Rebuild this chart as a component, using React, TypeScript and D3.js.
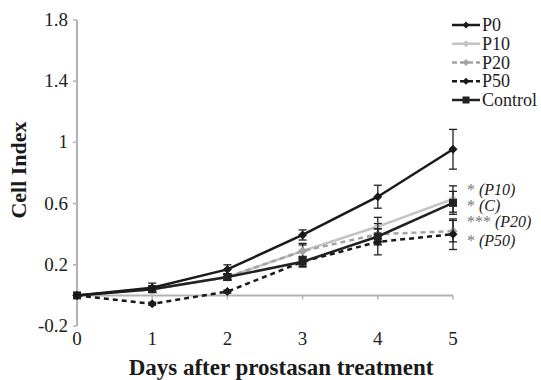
import React, { useRef, useEffect } from "react";
import * as d3 from "d3";

const days = [0, 1, 2, 3, 4, 5];
const yTicks = [-0.2, 0.2, 0.6, 1, 1.4, 1.8];

const p0 = [0, 0.05, 0.17, 0.395, 0.645, 0.955];
const p0Err = [0, 0.03, 0.03, 0.033, 0.075, 0.13];
const p10 = [0, 0.04, 0.12, 0.29, 0.45, 0.63];
const p10Err = [0, 0.02, 0.02, 0.05, 0.06, 0.086];
const p20 = [0, 0.04, 0.12, 0.29, 0.4, 0.42];
const p20Err = [0, 0.02, 0.02, 0.04, 0.07, 0.07];
const p50 = [0, -0.055, 0.025, 0.22, 0.35, 0.4];
const p50Err = [0, 0.01, 0.01, 0.035, 0.085, 0.1];
const control = [0, 0.04, 0.12, 0.22, 0.385, 0.605];
const controlErr = [0, 0.02, 0.02, 0.03, 0.05, 0.075];

const seriesNames = ["P0", "P10", "P20", "P50", "Control"];
const seriesColors = ["#1a1a1a", "#c4c4c4", "#a3a3a3", "#1a1a1a", "#222222"];
const seriesDash = ["", "", "5,4", "5,4", ""];
const seriesMarker = ["diamond", "diamond", "diamond", "diamond", "square"];

const sigLabels = [
  { stars: "*", name: "(P10)", value: 0.657 },
  { stars: "*", name: "(C)", value: 0.553 },
  { stars: "***", name: "(P20)", value: 0.448 },
  { stars: "*", name: "(P50)", value: 0.32 },
];

const FONT = "Liberation Serif";

const App = () => {
  const svgRef = useRef(null);

  useEffect(() => {
    const svg = d3.select(svgRef.current);
    svg.selectAll("*").remove();

    const x = d3.scaleLinear().domain([0, 5]).range([77, 453]);
    const y = d3.scaleLinear().domain([-0.2, 1.8]).range([326, 20]);
    const axisColor = "#b3b3b3";

    // y axis
    svg.append("line")
      .attr("x1", x(0)).attr("x2", x(0))
      .attr("y1", y(-0.2)).attr("y2", y(1.8))
      .attr("stroke", axisColor).attr("stroke-width", 2);
    yTicks.forEach(t => {
      svg.append("line")
        .attr("x1", x(0) - 4).attr("x2", x(0))
        .attr("y1", y(t)).attr("y2", y(t))
        .attr("stroke", axisColor).attr("stroke-width", 1.5);
      svg.append("text")
        .attr("x", x(0) - 9).attr("y", y(t) + 6)
        .attr("text-anchor", "end")
        .style("font-family", FONT).style("font-size", "19px")
        .attr("fill", "#222")
        .text(String(t));
    });

    // x axis at zero
    svg.append("line")
      .attr("x1", x(0)).attr("x2", x(5))
      .attr("y1", y(0)).attr("y2", y(0))
      .attr("stroke", axisColor).attr("stroke-width", 2);
    days.forEach(d => {
      svg.append("line")
        .attr("x1", x(d)).attr("x2", x(d))
        .attr("y1", y(0)).attr("y2", y(0) + 4)
        .attr("stroke", axisColor).attr("stroke-width", 1.5);
      svg.append("text")
        .attr("x", x(d)).attr("y", 345)
        .attr("text-anchor", "middle")
        .style("font-family", FONT).style("font-size", "19px")
        .attr("fill", "#222")
        .text(String(d));
    });

    // axis titles
    svg.append("text")
      .attr("x", 281).attr("y", 375)
      .attr("text-anchor", "middle")
      .style("font-family", FONT).style("font-size", "23px").style("font-weight", "bold")
      .attr("fill", "#1a1a1a")
      .text("Days after prostasan treatment");
    svg.append("text")
      .attr("transform", "translate(26, 170) rotate(-90)")
      .attr("text-anchor", "middle")
      .style("font-family", FONT).style("font-size", "22px").style("font-weight", "bold")
      .attr("fill", "#1a1a1a")
      .text("Cell Index");

    const values = [p0, p10, p20, p50, control];
    const errors = [p0Err, p10Err, p20Err, p50Err, controlErr];
    const line = d3.line<number>().x((_, i) => x(days[i])).y(v => y(v));

    const drawMarker = (g, kind, cx, cy, color, s) => {
      if (kind === "square") {
        g.append("rect")
          .attr("x", cx - s).attr("y", cy - s)
          .attr("width", 2 * s).attr("height", 2 * s)
          .attr("fill", color);
      } else {
        g.append("path")
          .attr("d", `M${cx},${cy - s}L${cx + s},${cy}L${cx},${cy + s}L${cx - s},${cy}Z`)
          .attr("fill", color);
      }
    };

    // draw order: light series first
    [1, 2, 3, 4, 0].forEach(si => {
      const g = svg.append("g");
      const color = seriesColors[si];
      // error bars
      values[si].forEach((v, i) => {
        const e = errors[si][i];
        if (e <= 0) return;
        const cx = x(days[i]);
        g.append("line")
          .attr("x1", cx).attr("x2", cx)
          .attr("y1", y(v - e)).attr("y2", y(v + e))
          .attr("stroke", "#222").attr("stroke-width", 1.3);
        [v - e, v + e].forEach(b => {
          g.append("line")
            .attr("x1", cx - 4).attr("x2", cx + 4)
            .attr("y1", y(b)).attr("y2", y(b))
            .attr("stroke", "#222").attr("stroke-width", 1.3);
        });
      });
      g.append("path")
        .attr("d", line(values[si]))
        .attr("fill", "none")
        .attr("stroke", color)
        .attr("stroke-width", 2.5)
        .attr("stroke-dasharray", seriesDash[si]);
      values[si].forEach((v, i) => {
        drawMarker(g, seriesMarker[si], x(days[i]), y(v), color, seriesMarker[si] === "square" ? 4 : 4.5);
      });
    });

    // significance labels
    sigLabels.forEach(s => {
      const t = svg.append("text")
        .attr("x", 467).attr("y", y(s.value))
        .style("font-family", FONT).style("font-size", "16px")
        .attr("fill", "#222");
      t.append("tspan").attr("fill", "#777").text(s.stars + " ");
      t.append("tspan").style("font-style", "italic").text(s.name);
    });

    // legend
    seriesNames.forEach((name, i) => {
      const ly = 25 + i * 18.75;
      const g = svg.append("g");
      g.append("line")
        .attr("x1", 452).attr("x2", 480)
        .attr("y1", ly).attr("y2", ly)
        .attr("stroke", seriesColors[i])
        .attr("stroke-width", 2.5)
        .attr("stroke-dasharray", seriesDash[i] ? "5,3" : "");
      drawMarker(g, seriesMarker[i], 466, ly, seriesColors[i], 3.5);
      g.append("text")
        .attr("x", 482).attr("y", ly + 6)
        .style("font-family", FONT).style("font-size", "18px")
        .attr("fill", "#222")
        .text(name);
    });
  }, []);

  return (
    <svg ref={svgRef} width={541} height={380}
      style={{ position: "absolute", left: 0, top: 0, background: "#fff" }} />
  );
};

export default App;
